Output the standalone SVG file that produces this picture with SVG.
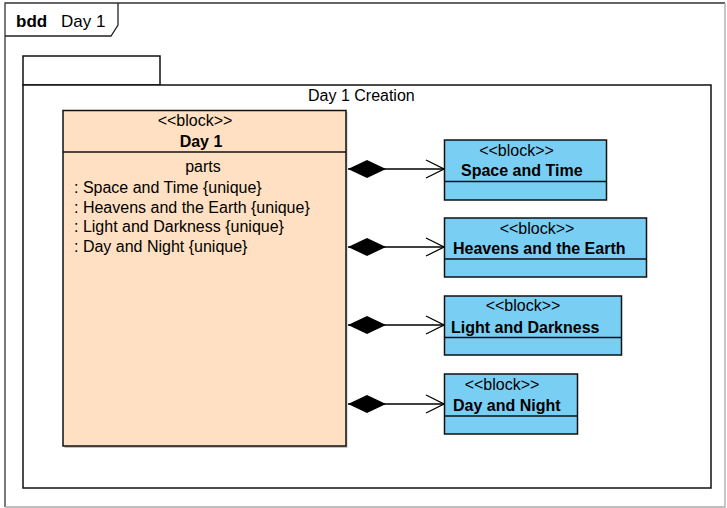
<svg xmlns="http://www.w3.org/2000/svg" width="727" height="508" viewBox="0 0 727 508">
  <style>
    text { font-family: "Liberation Sans", Arial, sans-serif; font-size: 16px; fill: #000; }
    .b { font-weight: bold; }
    .mid { text-anchor: middle; }
    .title { font-size: 17px; }
    .frame { fill: none; stroke: #222; stroke-width: 1.3; }
    .pk { fill: #fff; stroke: #111; stroke-width: 1.5; }
    .shadow { fill: #999; opacity: 0.6; }
    .day { fill: #FFE0C2; stroke: #111; stroke-width: 1.5; }
    .blk { fill: #79CEF4; stroke: #111; stroke-width: 1.5; }
    .sep { stroke: #111; stroke-width: 1.5; }
    .edge { fill: none; stroke: #000; stroke-width: 1.3; }
  </style>
  <defs>
    <marker id="diamond" viewBox="0 0 38 20" refX="0" refY="10" markerWidth="38" markerHeight="20" markerUnits="userSpaceOnUse" orient="auto">
      <path d="M0,10 L19,1 L38,10 L19,19 Z" fill="#000"/>
    </marker>
    <marker id="open" viewBox="0 0 20 20" refX="19" refY="10" markerWidth="20" markerHeight="20" markerUnits="userSpaceOnUse" orient="auto">
      <path d="M1,1 L19,10 L1,19" fill="none" stroke="#000" stroke-width="1.3"/>
    </marker>
  </defs>

  <rect width="727" height="508" fill="#fff"/>

  <!-- diagram frame -->
  <g id="frame">
    <path d="M5,507 L5,3 L725,3" fill="none" stroke="#333" stroke-width="1.3"/>
    <path d="M5,507 L725,507 L725,3" fill="none" stroke="#aaa" stroke-width="1.3"/>
    <path class="frame" d="M5,36 L111,36 L118,25 L118,3"/>
    <text x="16" y="27" class="b title">bdd</text>
    <text x="61" y="27" class="title">Day 1</text>
  </g>

  <!-- package -->
  <g id="pkg-day1-creation">
    <rect class="pk" x="23" y="56" width="137" height="29"/>
    <rect class="pk" x="23" y="85" width="688" height="403"/>
    <text x="308" y="101">Day 1 Creation</text>
  </g>

  <!-- Day 1 block -->
  <g id="block-day1">
    <rect class="shadow" x="64.5" y="112" width="283" height="336"/>
    <rect class="day" x="63" y="110.5" width="283" height="335.5"/>
    <line class="sep" x1="63" y1="152" x2="346" y2="152"/>
    <text x="195" y="126" class="mid">&lt;&lt;block&gt;&gt;</text>
    <text x="201" y="147" class="mid b">Day 1</text>
    <text x="203" y="172" class="mid">parts</text>
    <text x="74" y="193">: Space and Time {unique}</text>
    <text x="74" y="212.5">: Heavens and the Earth {unique}</text>
    <text x="74" y="232">: Light and Darkness {unique}</text>
    <text x="74" y="252">: Day and Night {unique}</text>
  </g>

  <!-- part blocks -->
  <g id="block-space-time">
    <rect class="blk" x="444.5" y="140" width="162" height="60"/>
    <line class="sep" x1="444.5" y1="181.5" x2="606.5" y2="181.5"/>
    <text x="516.5" y="156" class="mid">&lt;&lt;block&gt;&gt;</text>
    <text x="461" y="176" class="b">Space and Time</text>
  </g>
  <g id="block-heavens-earth">
    <rect class="blk" x="444.5" y="218" width="202" height="59"/>
    <line class="sep" x1="444.5" y1="259" x2="646.5" y2="259"/>
    <text x="537" y="233.5" class="mid">&lt;&lt;block&gt;&gt;</text>
    <text x="453" y="254" class="b">Heavens and the Earth</text>
  </g>
  <g id="block-light-darkness">
    <rect class="blk" x="444.5" y="296" width="177" height="59"/>
    <line class="sep" x1="444.5" y1="337.5" x2="621.5" y2="337.5"/>
    <text x="523" y="311" class="mid">&lt;&lt;block&gt;&gt;</text>
    <text x="451" y="332.5" class="b">Light and Darkness</text>
  </g>
  <g id="block-day-night">
    <rect class="blk" x="444.5" y="374" width="133" height="60"/>
    <line class="sep" x1="444.5" y1="416" x2="577.5" y2="416"/>
    <text x="502" y="390" class="mid">&lt;&lt;block&gt;&gt;</text>
    <text x="453" y="410.5" class="b">Day and Night</text>
  </g>

  <!-- part associations (composite) -->
  <g id="connectors">
    <path class="edge" d="M348,169 L444,169" marker-start="url(#diamond)" marker-end="url(#open)"/>
    <path class="edge" d="M348,247 L444,247" marker-start="url(#diamond)" marker-end="url(#open)"/>
    <path class="edge" d="M348,325 L444,325" marker-start="url(#diamond)" marker-end="url(#open)"/>
    <path class="edge" d="M348,404 L444,404" marker-start="url(#diamond)" marker-end="url(#open)"/>
  </g>
</svg>
